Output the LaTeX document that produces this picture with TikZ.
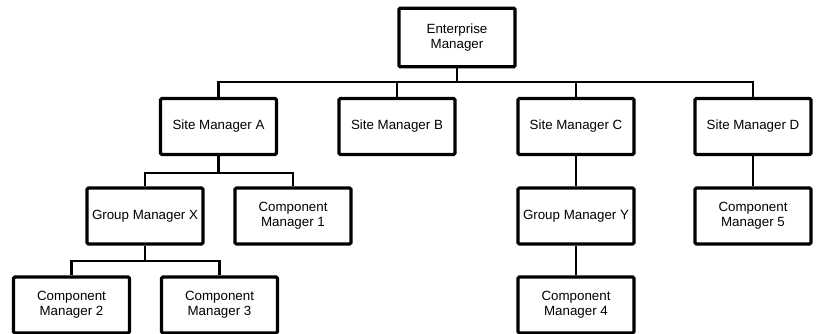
\documentclass[tikz,border=0pt]{standalone}
\usepackage{fontspec}
\setmainfont{Liberation Sans}
\usepackage{tikz}

\begin{document}
\begin{tikzpicture}[x=0.75pt, y=-0.75pt,
    mgr/.style={shape=rectangle, draw=black, line width=2.4pt, fill=white,
        rounded corners=1pt, minimum width=87pt, minimum height=42pt,
        inner sep=2pt, align=center, font=\fontsize{10}{11.5}\selectfont},
    wire/.style={draw=black, line width=2.2pt}]

    \useasboundingbox (0,0) rectangle (816,334);

    % top
    \node[mgr, minimum height=44pt] (EM) at (457,37.5) {Enterprise\\Manager};

    % site managers
    \node[mgr] (SMA) at (218.5,126.5) {Site Manager A};
    \node[mgr] (SMB) at (397,126.5) {Site Manager B};
    \node[mgr] (SMC) at (576,126.5) {Site Manager C};
    \node[mgr] (SMD) at (753,126.5) {Site Manager D};

    % groups and components
    \node[mgr] (GMX) at (145,216) {Group Manager X};
    \node[mgr] (CM1) at (293,216) {Component\\Manager 1};
    \node[mgr] (GMY) at (576,216) {Group Manager Y};
    \node[mgr] (CM5) at (753,216) {Component\\Manager 5};

    \node[mgr] (CM2) at (71.5,305) {Component\\Manager 2};
    \node[mgr] (CM3) at (219.5,305) {Component\\Manager 3};
    \node[mgr] (CM4) at (576,305) {Component\\Manager 4};

    % buses
    \coordinate (busE) at (0,82);
    \coordinate (busA) at (0,173);
    \coordinate (busX) at (0,261);

    \draw[wire] (EM.south) -- (EM.south |- busE);
    \draw[wire] (SMA.north) |- (busE -| SMD.north) -- (SMD.north);
    \draw[wire] (SMB.north) -- (SMB.north |- busE);
    \draw[wire] (SMC.north) -- (SMC.north |- busE);

    \draw[wire] (SMA.south) -- (SMA.south |- busA);
    \draw[wire] (GMX.north) |- (busA -| CM1.north) -- (CM1.north);

    \draw[wire] (GMX.south) -- (GMX.south |- busX);
    \draw[wire] (CM2.north) |- (busX -| CM3.north) -- (CM3.north);

    \draw[wire] (SMC) -- (GMY);
    \draw[wire] (GMY) -- (CM4);
    \draw[wire] (SMD) -- (CM5);

\end{tikzpicture}
\end{document}
